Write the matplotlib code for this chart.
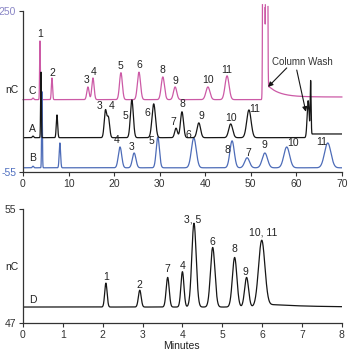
import numpy as np
import matplotlib.pyplot as plt

plt.rcParams['font.family'] = ['Liberation Sans', 'DejaVu Sans']

# --- upper chromatograms (retention time in minutes, signal in nC) ---
pink_base = 82
pink_rt = [2.2, 3.73, 6.36, 14.26, 15.36, 21.5, 25.46, 30.7, 33.4, 40.6, 44.8]
pink_apex = [85, 193, 123, 106, 123, 133, 134, 125, 106, 106, 127]
pink_sigma = [0.15, 0.08, 0.13, 0.25, 0.25, 0.31, 0.34, 0.36, 0.36, 0.44, 0.44]
pink_labels = ['1', '2', '3', '4', '5', '6', '8', '9', '10', '11']
pink_label_xy = [(3.73, 206), (6.36, 133), (14.0, 119), (15.6, 134), (21.3, 146),
                 (25.5, 148), (30.7, 138), (33.4, 117), (40.6, 119), (44.8, 138)]
pink_wash_rt = [52.85, 53.5]
pink_wash_height = [2800, 2800]
pink_wash_sigma = [0.12, 0.12]
pink_after_step = 5
pink_after_decay = 21

black_base = 10
black_rt = [2.2, 3.95, 7.46, 18.1, 18.75, 23.9, 28.7, 33.6, 34.9, 38.6, 45.6, 49.6]
black_apex = [13, 134, 53, 63, 50, 81.5, 74, 28, 59, 38, 36, 62.5]
black_sigma = [0.15, 0.08, 0.15, 0.27, 0.27, 0.32, 0.38, 0.3, 0.33, 0.38, 0.43, 0.48]
black_labels = ['3', '4', '5', '6', '7', '8', '9', '10', '11']
black_label_xy = [(16.9, 70), (19.5, 70), (22.6, 51), (27.4, 57), (32.9, 40),
                  (35.1, 74), (39.1, 51), (45.6, 47), (50.9, 64)]
black_wash_rt = [62.6, 63.15]
black_wash_height = [70, 105]
black_wash_sigma = [0.22, 0.1]
black_after_step = 7

blue_base = -47
blue_rt = [2.2, 4.17, 8.1, 21.3, 24.4, 29.6, 37.5, 45.9, 49.2, 53.1, 57.9, 66.9]
blue_apex = [-44, 97, 0, -7.6, -19, 11, 9.5, 4, -28, -19, -7.6, 0]
blue_sigma = [0.15, 0.08, 0.15, 0.37, 0.39, 0.35, 0.53, 0.48, 0.53, 0.58, 0.63, 0.7]
blue_labels = ['4', '3', '5', '6', '8', '7', '9', '10', '11']
blue_label_xy = [(20.6, 6), (23.9, -8), (28.3, 4), (36.2, 15), (44.8, -13),
                 (49.4, -19), (52.9, -4), (59.3, 0), (65.6, 2)]

# --- lower chromatogram D ---
d_base = 48.12
d_rt = [2.08, 2.93, 3.63, 4.0, 4.29, 4.76, 5.31, 5.61, 5.99]
d_apex = [49.8, 49.3, 50.2, 50.6, 54.0, 52.3, 51.6, 50.2, 52.8]
d_sigma = [0.03, 0.035, 0.038, 0.038, 0.055, 0.056, 0.056, 0.05, 0.08]
d_labels = ['1', '2', '7', '4', '3, 5', '6', '8', '9', '10, 11']
d_label_xy = [(2.08, 50.23), (2.91, 49.67), (3.63, 50.79), (4.01, 51.0), (4.26, 54.23),
              (4.76, 52.68), (5.31, 52.19), (5.59, 50.58), (6.02, 53.32)]
d_tail = 0.2

PINK = '#cc5aa6'
BLACK = '#161616'
BLUE = '#4d6cb8'


def gauss(t, rt, h, s):
    return h * np.exp(-(t - rt) ** 2 / (2 * s ** 2))


def trace(t, base, rt, apex, sigma):
    # solve peak heights so that the summed signal hits each apex
    rt = np.asarray(rt, float)
    sigma = np.asarray(sigma, float)
    G = np.exp(-(rt[:, None] - rt[None, :]) ** 2 / (2 * sigma[None, :] ** 2))
    h = np.linalg.solve(G, np.asarray(apex, float) - base)
    y = np.full_like(t, base, dtype=float)
    for r, hh, s in zip(rt, h, sigma):
        y += gauss(t, r, hh, s)
    return y


def step(t, t0, w=0.05):
    return 1 / (1 + np.exp(-(t - t0) / w))


t = np.linspace(0, 70, 14000)

y_c = trace(t, pink_base, pink_rt, pink_apex, pink_sigma)
for r, h, s in zip(pink_wash_rt, pink_wash_height, pink_wash_sigma):
    y_c += gauss(t, r, h, s)
y_c += step(t, 53.85) * (pink_after_step + pink_after_decay * np.exp(-np.clip(t - 53.85, 0, None) / 2.5))
y_c[y_c > 263] = np.nan   # wash goes off scale

y_a = trace(t, black_base, black_rt, black_apex, black_sigma)
for r, h, s in zip(black_wash_rt, black_wash_height, black_wash_sigma):
    y_a += gauss(t, r, h, s)
y_a += step(t, 63.35) * black_after_step

y_b = trace(t, blue_base, blue_rt, blue_apex, blue_sigma)

td = np.linspace(0, 8, 8000)
y_d = trace(td, d_base, d_rt, d_apex, d_sigma)
y_d += d_tail * step(td, 6.15) * np.exp(-np.clip(td - 6.15, 0, None) / 0.9)

fig = plt.figure(figsize=(3.5, 3.53), dpi=100)
ax1 = fig.add_axes([0.0657, 0.5127, 0.911, 0.4745])
ax2 = fig.add_axes([0.0657, 0.085, 0.911, 0.323])

fs = 7.5
ax1.plot(t, y_c, color=PINK, lw=0.9, clip_on=False)
ax1.plot(t, y_b, color=BLUE, lw=0.9)
ax1.plot(t, y_a, color=BLACK, lw=0.9)

for lab, (x, y) in zip(pink_labels, pink_label_xy):
    ax1.text(x, y, lab, fontsize=fs, ha='center', va='center', color='#222')
for lab, (x, y) in zip(black_labels, black_label_xy):
    ax1.text(x, y, lab, fontsize=fs, ha='center', va='center', color='#222')
for lab, (x, y) in zip(blue_labels, blue_label_xy):
    ax1.text(x, y, lab, fontsize=fs, ha='center', va='center', color='#222')
for lab, y in zip(['C', 'A', 'B'], [98, 27, -28]):
    ax1.text(2.0, y, lab, fontsize=fs, ha='center', va='center', color='#222')

ax1.text(61.4, 153, 'Column Wash', fontsize=7, ha='center', va='center', color='#333')
arrow = dict(arrowstyle='-|>', color=BLACK, lw=0.8, mutation_scale=7, shrinkA=0, shrinkB=0)
ax1.annotate('', xy=(53.8, 106), xytext=(57.9, 142), arrowprops=arrow)
ax1.annotate('', xy=(62.1, 59), xytext=(60.1, 138), arrowprops=arrow)

ax1.set_xlim(0, 70)
ax1.set_ylim(-55, 262)
ax1.spines['left'].set_bounds(-55, 250)
ax1.set_xticks(range(0, 71, 10))
ax1.set_yticks([-55, 250])
ax1.set_yticklabels(['-55', '250'])
ax1.get_yticklabels()[0].set_color('#5070c0')
ax1.get_yticklabels()[1].set_color('#8a86c6')
ax1.text(-2.4, 100, 'nC', fontsize=fs, ha='center', va='center', color='#222', clip_on=False)

ax2.plot(td, y_d, color=BLACK, lw=0.9)
for lab, (x, y) in zip(d_labels, d_label_xy):
    ax2.text(x, y, lab, fontsize=fs, ha='center', va='center', color='#222')
ax2.text(0.25, 48.6, 'D', fontsize=fs, ha='center', va='center', color='#222')
ax2.set_xlim(0, 8)
ax2.set_ylim(47, 55)
ax2.set_xticks(range(0, 9))
ax2.set_yticks([47, 55])
ax2.text(-0.28, 50.93, 'nC', fontsize=fs, ha='center', va='center', color='#222', clip_on=False)
fig.text(0.517, 0.02, 'Minutes', fontsize=fs, ha='center', va='center', color='#222')

for ax in (ax1, ax2):
    for side in ('top', 'right'):
        ax.spines[side].set_visible(False)
    for side in ('left', 'bottom'):
        ax.spines[side].set_linewidth(0.9)
        ax.spines[side].set_color('#333')
    ax.tick_params(length=3, width=0.8, pad=2, labelsize=fs, colors='#333')
    ax.patch.set_alpha(0)
ax1.get_yticklabels()[0].set_color('#5070c0')
ax1.get_yticklabels()[1].set_color('#8a86c6')

fig.savefig('out.png', dpi=100)
